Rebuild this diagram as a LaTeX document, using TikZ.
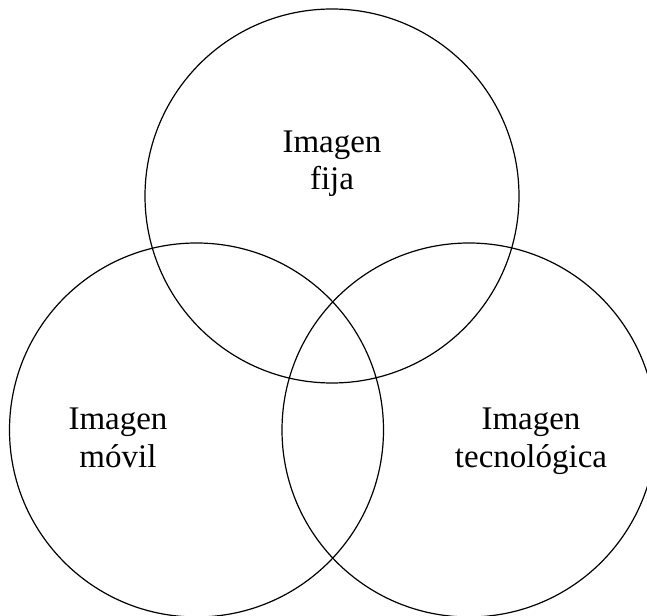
\documentclass[tikz,border=0pt]{standalone}
\usepackage{fontspec}
\setmainfont{Liberation Serif}
\tikzset{
  setcircle/.style={circle, draw=black, line width=1.2pt, minimum size=374pt, inner sep=0pt},
  lbl/.style={anchor=base, inner sep=0pt, font=\fontsize{33}{37}\selectfont}
}
\begin{document}
\begin{tikzpicture}[x=1pt,y=1pt]
\useasboundingbox (0,0) rectangle (647,615);
\node[setcircle] (fija) at (332,419) {};
\node[setcircle] (movil) at (196.5,185) {};
\node[setcircle] (tecno) at (469,185) {};
\node[lbl] (fijaA) at (332,462) {Imagen};
\node[lbl] (fijaB) at (332,425) {fija};
\node[lbl] (movilA) at (118,185) {Imagen};
\node[lbl] (movilB) at (118,147) {móvil};
\node[lbl] (tecnoA) at (531,185) {Imagen};
\node[lbl] (tecnoB) at (531,147) {tecnológica};
\end{tikzpicture}
\end{document}
